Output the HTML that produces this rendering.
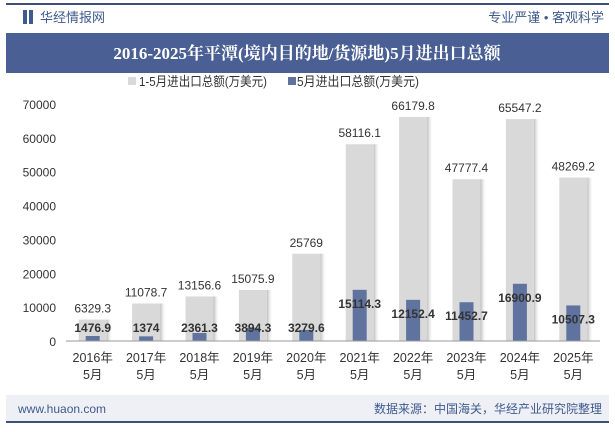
<!DOCTYPE html>
<html><head><meta charset="utf-8">
<style>
body{margin:0;width:615px;height:427px;overflow:hidden;background:#fff;font-family:"Liberation Sans","Noto Sans CJK SC",sans-serif;}
</style></head>
<body>
<svg width="615" height="427" xmlns="http://www.w3.org/2000/svg">
<defs>
<linearGradient id="sh" x1="0" x2="1"><stop offset="0" stop-color="#bbb"/><stop offset="1" stop-color="#fff" stop-opacity="0"/></linearGradient>
</defs>
<rect x="6" y="3" width="603" height="2" fill="#3e4f7e"/>
<rect x="23" y="10" width="4" height="14" fill="#3e5a8e"/>
<rect x="29" y="10" width="4" height="14" fill="#3e5a8e"/>
<text x="40" y="22" font-size="13" fill="#3e5a8e">华经情报网</text>
<text x="604" y="22" font-size="13" fill="#3e5a8e" text-anchor="end">专业严谨 • 客观科学</text>
<rect x="6" y="33" width="603" height="40" fill="#4a5f94"/>
<text x="307" y="59" font-size="17" font-weight="bold" fill="#fff" text-anchor="middle" font-family="'Liberation Serif','Noto Serif CJK SC',serif">2016-2025年平潭(境内目的地/货源地)5月进出口总额</text>
<rect x="128" y="77" width="8" height="8" fill="#d9d9d9"/>
<text x="139" y="86" font-size="13" fill="#333" textLength="128" lengthAdjust="spacingAndGlyphs">1-5月进出口总额(万美元)</text>
<rect x="288" y="77" width="8" height="8" fill="#60739f"/>
<text x="297" y="86" font-size="13" fill="#333" textLength="122" lengthAdjust="spacingAndGlyphs">5月进出口总额(万美元)</text>
<g id="yaxis"></g>
<g id="bars"></g>
<line x1="66" y1="341" x2="600" y2="341" stroke="#999"/>
<rect x="6" y="395" width="603" height="26" fill="#eef0f5"/>
<text x="18" y="413" font-size="12" fill="#3e5a8e">www.huaon.com</text>
<text x="602" y="413" font-size="12" fill="#3e5a8e" text-anchor="end">数据来源：中国海关，华经产业研究院整理</text>
<rect x="6" y="421" width="603" height="2" fill="#3e4f7e"/>
</svg>
<script>
const categories=["2016年","2017年","2018年","2019年","2020年","2021年","2022年","2023年","2024年","2025年"];
const totalValues=[6329.3,11078.7,13156.6,15075.9,25769,58116.1,66179.8,47777.4,65547.2,48269.2];
const mayValues=[1476.9,1374,2361.3,3894.3,3279.6,15114.3,12152.4,11452.7,16900.9,10507.3];
const yTicks=[0,10000,20000,30000,40000,50000,60000,70000];
const NS="http://www.w3.org/2000/svg";
const y=v=>341-v*(237/70000);
const x=i=>66+(i+0.5)*(534/10);
function mk(t,a,p){const e=document.createElementNS(NS,t);for(const k in a)e.setAttribute(k,a[k]);p.appendChild(e);return e;}
const ya=document.getElementById('yaxis');
yTicks.forEach(v=>{
  const t=mk('text',{x:56,y:y(v)+5,'font-size':12,fill:'#333','text-anchor':'end'},ya);
  t.textContent=v;
  
  
});
const g=document.getElementById('bars');
categories.forEach((c,i)=>{
  const cx=x(i);
  const sh=mk('rect',{x:cx+14,y:y(totalValues[i]),width:6,height:341-y(totalValues[i]),fill:'url(#sh)'},g);
  
  
  const r=mk('rect',{x:cx-14,y:y(totalValues[i]),width:28,height:341-y(totalValues[i]),fill:'#d9d9d9'},g);
  
  
  const b=mk('rect',{x:cx-7,y:y(mayValues[i]),width:14,height:341-y(mayValues[i]),fill:'#60739f'},g);
  
  
  const tl=mk('text',{x:cx,y:y(totalValues[i])-7,'font-size':12,fill:'#333','text-anchor':'middle'},g);
  tl.textContent=totalValues[i];
  
  
  const ml=mk('text',{x:cx,y:Math.min(y(mayValues[i])+18,332),'font-size':12,'font-weight':'bold',fill:'#333','text-anchor':'middle'},g);
  ml.textContent=mayValues[i];
  
  
  const l1=mk('text',{x:cx,y:362,'font-size':12.5,fill:'#333','text-anchor':'middle'},g);
  l1.textContent=c;
  
  
  const l2=mk('text',{x:cx,y:379,'font-size':12.5,fill:'#333','text-anchor':'middle'},g);
  l2.textContent='5月';
  
  
});
</script>
</body></html>
